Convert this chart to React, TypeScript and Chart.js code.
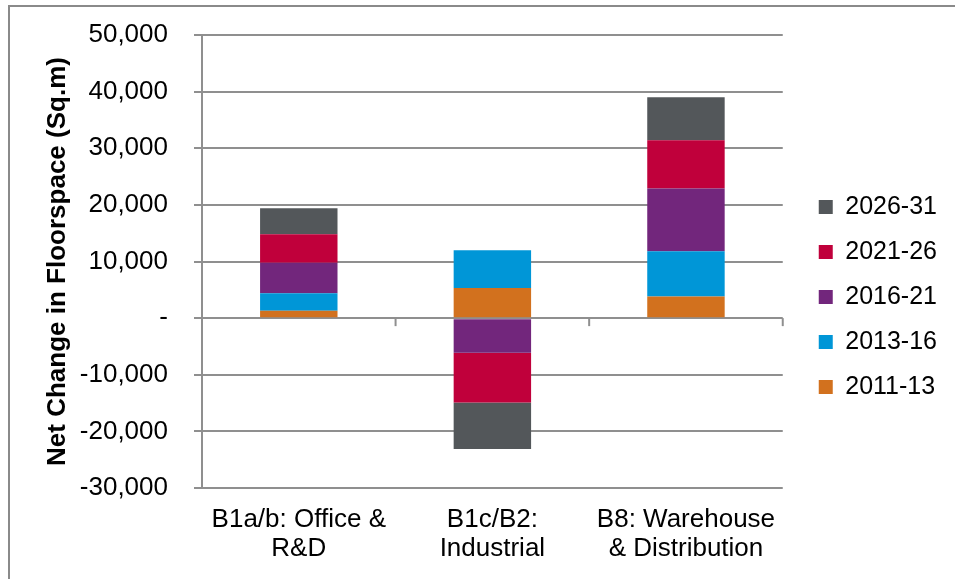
import React, { useEffect, useRef } from "react";
import { Chart, registerables } from "chart.js";

Chart.register(...registerables);

const categories: string[][] = [
  ["B1a/b: Office &", "R&D"],
  ["B1c/B2:", "Industrial"],
  ["B8: Warehouse", "& Distribution"],
];
const seriesLabels = ["2011-13", "2013-16", "2016-21", "2021-26", "2026-31"];
const s2011_13 = [1300, 5300, 3800];
const s2013_16 = [3100, 6700, 8000];
const s2016_21 = [5400, -6100, 11100];
const s2021_26 = [5000, -8800, 8500];
const s2026_31 = [4600, -8200, 7600];
const seriesColors = ["#D2711E", "#0096D7", "#72267C", "#C0003B", "#53575A"];
const yMin = -30000;
const yMax = 50000;
const yStep = 10000;

const FONT = "'Liberation Sans', Arial, sans-serif";
const GRID = "#8f8f8f";
const LEGEND_SHIFT_X = 16;
const LEGEND_SHIFT_Y = -10;

const zeroTicks = {
  id: "zeroTicks",
  afterDatasetsDraw(chart: any) {
    const x = chart.scales.x;
    const y = chart.scales.y;
    const y0 = y.getPixelForValue(0);
    const ctx = chart.ctx;
    ctx.save();
    ctx.strokeStyle = GRID;
    ctx.lineWidth = 2;
    for (let i = 0; i <= categories.length; i++) {
      const px = x.getPixelForValue(i - 0.5);
      ctx.beginPath();
      ctx.moveTo(px, y0);
      ctx.lineTo(px, y0 + 8);
      ctx.stroke();
    }
    ctx.restore();
  },
};

const legendShift = {
  id: "legendShift",
  afterLayout(chart: any) {
    const l = chart.legend;
    if (!l) return;
    l.left += LEGEND_SHIFT_X;
    l.right += LEGEND_SHIFT_X;
    l.top += LEGEND_SHIFT_Y;
    l.bottom += LEGEND_SHIFT_Y;
  },
};

export default function App() {
  const ref = useRef<HTMLCanvasElement | null>(null);
  useEffect(() => {
    if (!ref.current) return;
    const all = [s2011_13, s2013_16, s2016_21, s2021_26, s2026_31];
    const chart = new Chart(ref.current, {
      type: "bar",
      data: {
        labels: categories,
        datasets: all.map((d, i) => ({
          label: seriesLabels[i],
          data: d,
          backgroundColor: seriesColors[i],
          borderWidth: 0,
          barPercentage: 0.4,
          categoryPercentage: 1,
        })),
      },
      options: {
        animation: false,
        responsive: false,
        layout: { padding: { left: 40, top: 35, right: 24, bottom: 0 } },
        plugins: {
          tooltip: { enabled: false },
          legend: {
            position: "right",
            reverse: true,
            labels: {
              boxWidth: 14,
              boxHeight: 14,
              padding: 20,
              color: "#000",
              font: { family: FONT, size: 25 },
            },
          },
        },
        scales: {
          x: {
            stacked: true,
            grid: { display: false, drawTicks: false },
            border: { display: false },
            ticks: {
              color: "#000",
              padding: 17,
              maxRotation: 0,
              autoSkip: false,
              font: { family: FONT, size: 26, lineHeight: 1.12 },
            },
            afterFit: (s: any) => {
              s.height = 91;
            },
          },
          y: {
            stacked: true,
            min: yMin,
            max: yMax,
            grid: { color: GRID, lineWidth: 2, tickLength: 8 },
            border: { color: GRID, width: 2 },
            ticks: {
              stepSize: yStep,
              color: "#000",
              padding: 26,
              font: { family: FONT, size: 26 },
              callback: (v: any) => (Number(v) === 0 ? "-" : Number(v).toLocaleString("en-US")),
            },
            title: {
              display: true,
              text: "Net Change in Floorspace (Sq.m)",
              color: "#000",
              font: { family: FONT, size: 26, weight: "bold" },
              padding: 2,
            },
            afterFit: (s: any) => {
              s.width = 162;
              s.paddingTop = 0;
              s.paddingBottom = 0;
            },
          },
        },
      },
      plugins: [zeroTicks, legendShift],
    });
    return () => chart.destroy();
  }, []);
  return (
    <div style={{ position: "fixed", left: 0, top: 0, width: 955, height: 579, background: "#fff", overflow: "hidden" }}>
      <div
        style={{
          position: "absolute",
          left: 8,
          top: 5,
          width: 1200,
          height: 1200,
          borderTop: "2px solid #8a8a8a",
          borderLeft: "2px solid #8a8a8a",
        }}
      />
      <canvas ref={ref} width={955} height={579} style={{ position: "absolute", left: 0, top: 0, width: 955, height: 579 }} />
    </div>
  );
}
